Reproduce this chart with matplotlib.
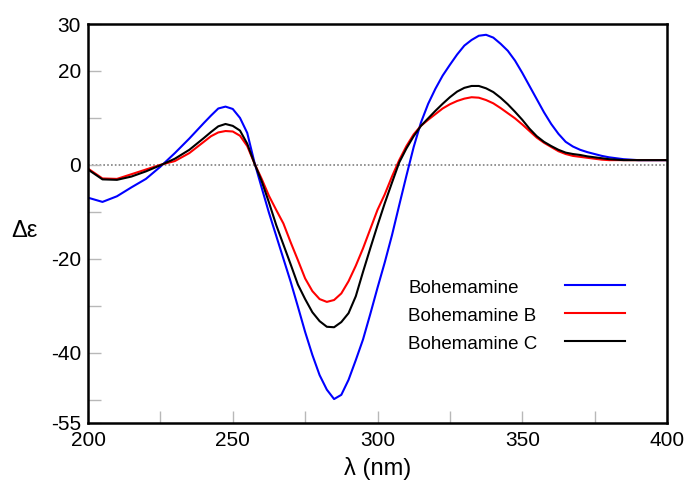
import matplotlib
matplotlib.use('Agg')
import matplotlib.pyplot as plt
from matplotlib.lines import Line2D

plt.rcParams['font.family'] = ['Liberation Sans', 'DejaVu Sans']
plt.rcParams['axes.unicode_minus'] = False

# ---------------- data ----------------
wavelength = [200, 205, 210, 215, 220, 225, 230, 235, 240,
              242.5, 245, 247.5, 250, 252.5, 255, 257.5, 260, 262.5, 265,
              267.5, 270, 272.5, 275, 277.5, 280, 282.5, 285, 287.5, 290,
              292.5, 295, 297.5, 300, 302.5, 305, 307.5, 310, 312.5, 315,
              317.5, 320, 322.5, 325, 327.5, 330, 332.5, 335, 337.5, 340,
              342.5, 345, 347.5, 350, 352.5, 355, 357.5, 360, 362.5, 365,
              367.5, 370, 372.5, 375, 377.5, 380,
              385, 390, 395, 400]

bohemamine = [-7.0, -7.9, -6.7, -4.8, -3.0, -0.4, 2.5, 5.6, 8.9,
              10.5, 12.0, 12.4, 11.9, 10.0, 6.8, 0.5, -4.9, -10.2, -15.1,
              -20.0, -24.9, -30.2, -35.6, -40.5, -44.8, -47.9, -49.9, -49.0, -45.8,
              -41.6, -37.2, -31.8, -26.2, -20.8, -15.0, -8.6, -2.3, 3.8, 9.0,
              13.0, 16.2, 19.0, 21.3, 23.5, 25.4, 26.6, 27.5, 27.7, 27.1,
              25.8, 24.3, 22.2, 19.6, 16.8, 14.0, 11.2, 8.7, 6.6, 4.9,
              3.9, 3.2, 2.7, 2.3, 1.9, 1.6,
              1.2, 1.0, 1.0, 1.0]

bohemamine_b = [-0.8, -2.9, -3.0, -2.0, -1.0, 0.0, 0.8, 2.5, 4.9,
                6.1, 6.9, 7.2, 7.1, 6.2, 4.0, 0.3, -3.0, -6.6, -9.6,
                -12.5, -16.5, -20.3, -24.2, -26.9, -28.6, -29.2, -28.8, -27.4, -24.8,
                -21.5, -17.8, -13.7, -9.6, -6.3, -2.5, 1.0, 4.0, 6.5, 8.3,
                9.6, 10.8, 12.0, 12.9, 13.6, 14.1, 14.4, 14.3, 13.8, 13.1,
                12.1, 11.0, 9.9, 8.6, 7.2, 5.8, 4.7, 3.8, 2.9, 2.3,
                1.9, 1.7, 1.5, 1.3, 1.1, 1.0,
                1.0, 1.0, 1.0, 1.0]

bohemamine_c = [-1.0, -3.1, -3.2, -2.5, -1.4, -0.1, 1.3, 3.2, 5.7,
                7.0, 8.2, 8.7, 8.3, 7.3, 4.5, 0.3, -3.5, -8.0, -12.8,
                -17.0, -21.2, -25.5, -28.6, -31.4, -33.3, -34.5, -34.6, -33.5, -31.6,
                -28.0, -22.8, -17.8, -12.9, -8.2, -3.8, 0.5, 3.5, 6.1, 8.3,
                9.9, 11.5, 13.0, 14.4, 15.6, 16.4, 16.8, 16.8, 16.3, 15.5,
                14.3, 12.9, 11.3, 9.6, 7.7, 6.1, 4.9, 4.0, 3.2, 2.6,
                2.3, 2.1, 1.8, 1.6, 1.4, 1.2,
                1.0, 1.0, 1.0, 1.0]

series_names = ['Bohemamine', 'Bohemamine B', 'Bohemamine C']
series_colors = ['#0000ff', '#ff0000', '#000000']

x_ticks = [200, 225, 250, 275, 300, 325, 350, 375, 400]
x_tick_labels = ['200', '', '250', '', '300', '', '350', '', '400']
y_ticks = [30, 20, 10, 0, -10, -20, -30, -40, -50, -55]
y_tick_labels = ['30', '20', '', '0', '', '-20', '', '-40', '', '-55']

# ---------------- figure ----------------
fig = plt.figure(figsize=(6.88, 4.83), dpi=100)
ax = fig.add_axes([88 / 688, 1 - 423 / 483, 579 / 688, 399 / 483])

ax.axhline(0, color='#808080', lw=1.2, ls=(0, (1, 1.3)), zorder=1)

all_series = [bohemamine, bohemamine_b, bohemamine_c]
for vals, name, col in zip(all_series, series_names, series_colors):
    ax.plot(wavelength, vals, color=col, lw=1.5, label=name, zorder=3,
            solid_joinstyle='round')

ax.set_xlim(200, 400)
ax.set_ylim(-55, 30)

ax.set_xticks(x_ticks, x_tick_labels)
ax.set_yticks(y_ticks, y_tick_labels)
ax.tick_params(which='major', direction='in', length=9, width=1,
               color='#b8b8b8', labelsize=15, labelcolor='black')
ax.tick_params(axis='y', pad=5)
ax.tick_params(axis='x', pad=6)

for sp in ax.spines.values():
    sp.set_linewidth(1.8)
    sp.set_color('black')
    sp.set_zorder(4)

ax.set_xlabel('λ (nm)', fontsize=17)
ax.xaxis.set_label_coords(0.5, -0.085)
ax.set_ylabel('Δε', fontsize=17, rotation=0, va='center', ha='center')
ax.yaxis.set_label_coords(-0.110, 0.482)

# legend: text column on the left, line samples on the right
text_x = (408 - 88) / 579
line_x0 = (565 - 88) / 579
line_x1 = (625 - 88) / 579
baselines_px = [292.7, 321.0, 349.3]
line_px = [284.5, 312.7, 341.0]
for name, col, bpx, lpx in zip(series_names, series_colors, baselines_px, line_px):
    ax.text(text_x, (423 - bpx) / 399, name, transform=ax.transAxes,
            fontsize=13.5, ha='left', va='baseline')
    ly = (423 - lpx) / 399
    ax.add_line(Line2D([line_x0, line_x1], [ly, ly], transform=ax.transAxes,
                       color=col, lw=1.5))

fig.savefig('out.png', dpi=100)
